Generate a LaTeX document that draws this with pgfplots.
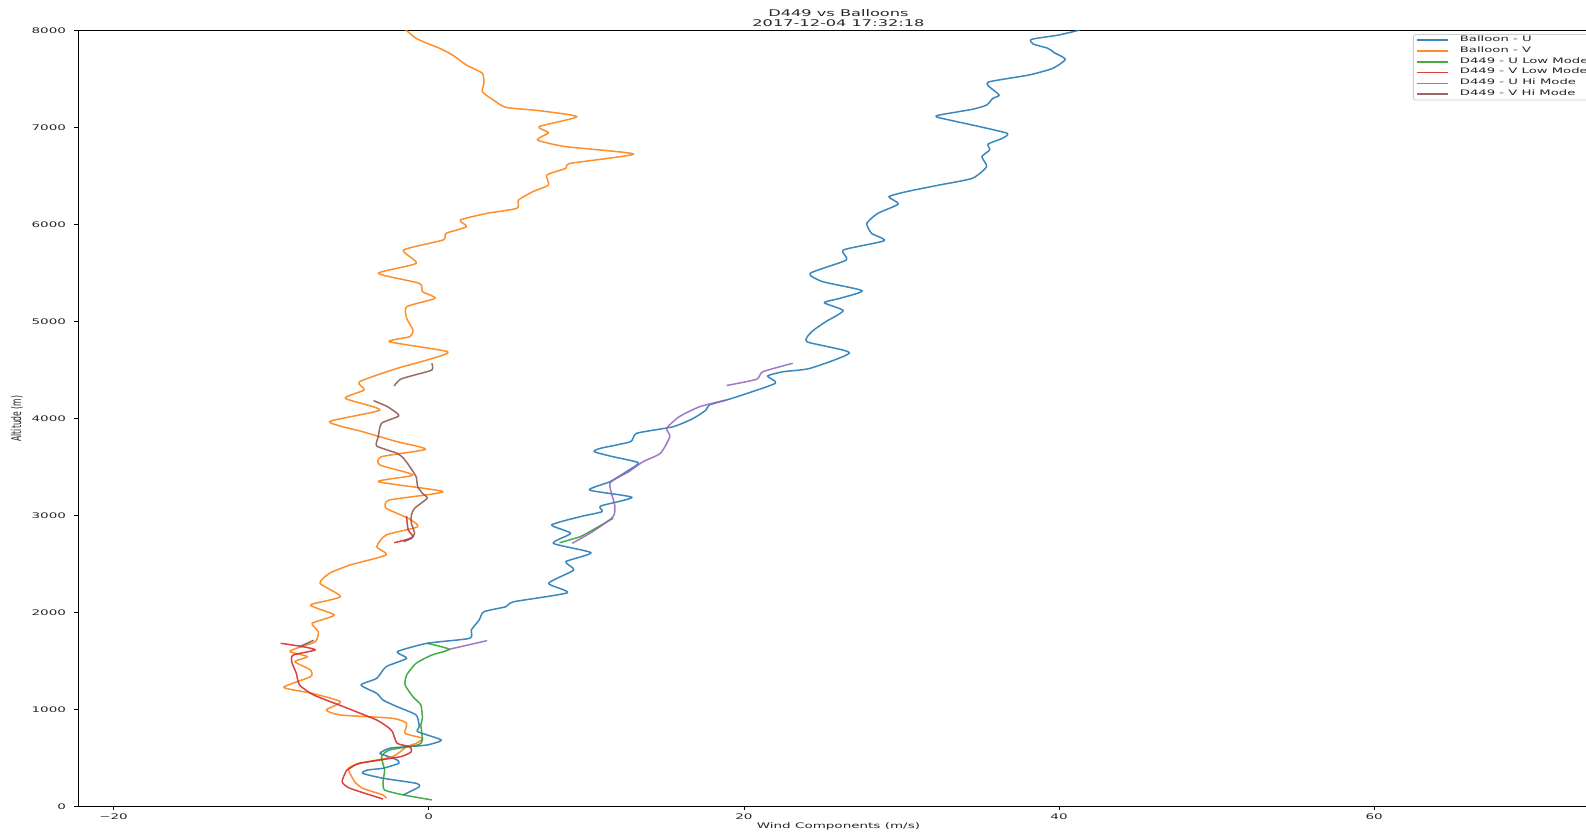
\documentclass[border=0pt]{standalone}
\usepackage{pgfplots}
\pgfplotsset{compat=1.18}
\usepackage{fontspec}
\setmainfont{DejaVu Sans}
% text is squashed vertically, as in the exported figure
\newcommand{\sq}[1]{\scalebox{1}[0.57]{#1}}
\definecolor{c0}{HTML}{1F77B4}
\definecolor{c1}{HTML}{FF7F0E}
\definecolor{c2}{HTML}{2CA02C}
\definecolor{c3}{HTML}{D62728}
\definecolor{c4}{HTML}{9467BD}
\definecolor{c5}{HTML}{8C564B}
\begin{document}
\begin{tikzpicture}
\path[use as bounding box] (-39.45pt,-12.65pt) rectangle (753.55pt,403.35pt);
\begin{axis}[
  at={(0pt,0pt)}, anchor=south west,
  scale only axis, width=759.55pt, height=388.2pt,
  xmin=-22.2, xmax=74.2, ymin=0, ymax=8000,
  unbounded coords=jump,
  axis line style={line width=0.55pt},
  tick align=outside, tick pos=left,
  xtick={-20,0,20,40,60},
  xticklabels={\sq{−20},\sq{0},\sq{20},\sq{40},\sq{60}},
  ytick={0,1000,2000,3000,4000,5000,6000,7000,8000},
  yticklabels={\sq{0},\sq{1000},\sq{2000},\sq{3000},\sq{4000},\sq{5000},\sq{6000},\sq{7000},\sq{8000}},
  xtick style={black, line width=0.4pt, /pgfplots/major tick length=1.4pt},
  ytick style={black, line width=0.4pt, /pgfplots/major tick length=2.4pt},
  tick label style={font=\fontsize{6.75}{8}\selectfont, text=black!85},
  xticklabel style={inner sep=0pt, yshift=1pt},
  yticklabel style={inner sep=0pt, xshift=-2pt},
  xlabel={\sq{Wind Components (m/s)}},
  ylabel={\scalebox{0.57}[1]{Altitude (m)}},
  label style={font=\fontsize{6.75}{8}\selectfont, text=black!85},
  xlabel style={at={(axis description cs:0.5,0)}, anchor=center, yshift=-10pt},
  ylabel style={at={(axis description cs:0,0.5)}, anchor=center, rotate=0, yshift=31pt},
  title={\sq{\begin{tabular}{@{}c@{}}D449 vs Balloons\\2017-12-04 17:32:18\end{tabular}}},
  title style={font=\fontsize{8.1}{9.2}\selectfont, text=black!85, at={(0.5,1)}, anchor=south, inner sep=0pt, yshift=-5.9pt},
  legend cell align=left,
  legend image code/.code={\draw[#1] (0pt,0pt) -- (15.5pt,0pt);},
  legend style={at={(0.8782,0.9952)}, anchor=north west, draw=black!20, rounded corners=1pt,
    fill=white, fill opacity=0.8, text opacity=1,
    font=\fontsize{6.6}{8}\selectfont, text=black!85,
    inner xsep=1.5pt, inner ysep=0.2pt, row sep=0pt,
    nodes={inner sep=0pt, minimum height=5.4pt},
    /tikz/every odd column/.append style={column sep=5.5pt}},
  every axis plot/.append style={line width=0.75pt, line join=round, smooth, tension=0.35, opacity=0.88},
]
% Balloon - U
\addplot[c0] coordinates {
(-1.6,121) (-1.2,155) (-0.6,206) (-0.8,241) (-2.9,293) (-4.2,344) (-3.9,378) (-2.9,396)
(-1.9,447) (-2.0,481) (-2.5,515) (-3.1,550) (-2.5,602) (-1.4,618) (-0.1,636) (0.8,687)
(-0.7,773) (-0.6,824) (-0.8,945) (-2.0,1030) (-2.9,1099) (-3.3,1168) (-4.3,1254) (-3.3,1323)
(-2.7,1443) (-1.4,1529) (-2.0,1597) (-0.1,1684) (2.6,1735) (2.7,1821) (3.2,1924) (3.5,2009)
(4.9,2061) (5.4,2112) (8.8,2205) (7.6,2302) (9.2,2439) (8.7,2525) (10.3,2617) (7.9,2714)
(9.0,2817) (7.8,2903) (9.6,2988) (11.0,3040) (10.9,3098) (12.9,3188) (10.2,3263) (11.5,3349)
(12.7,3469) (13.3,3545) (11.7,3606) (10.5,3658) (10.9,3693) (12.8,3761) (13.2,3848) (15.5,3915)
(16.8,4002) (17.6,4088) (17.8,4139) (18.9,4191) (19.7,4232) (22.0,4363) (21.5,4438) (22.5,4482)
(24.2,4517) (26.7,4678) (24.0,4791) (24.3,4894) (25.2,4998) (26.3,5111) (25.1,5193) (26.1,5239)
(27.5,5317) (25.0,5410) (24.2,5496) (26.5,5633) (26.3,5736) (28.9,5832) (28.1,5908) (27.8,6011)
(28.5,6114) (29.8,6210) (29.2,6285) (30.3,6337) (32.4,6406) (34.5,6475) (35.4,6595) (35.1,6698)
(35.6,6767) (35.5,6828) (36.4,6887) (36.7,6939) (34.5,7024) (32.3,7103) (32.4,7127) (34.5,7186)
(35.4,7230) (35.8,7299) (36.2,7333) (35.5,7429) (35.6,7471) (38.1,7540) (39.6,7608) (40.4,7701)
(39.7,7769) (39.3,7814) (38.35,7859) (38.25,7907) (40.0,7952) (41.3,8003)
};
\addlegendentry{\sq{Balloon - U}}
% Balloon - V
\addplot[c1] coordinates {
(-2.7,87) (-2.9,121) (-4.2,190) (-4.7,258) (-5.0,344) (-5.1,396) (-4.4,447) (-2.3,515)
(-1.4,618) (-0.8,653) (-0.4,705) (-1.5,756) (-1.4,859) (-2.3,911) (-5.6,945) (-6.5,996)
(-5.6,1082) (-7.4,1168) (-9.2,1230) (-7.5,1340) (-7.5,1409) (-8.5,1494) (-7.7,1546) (-8.8,1597)
(-8.4,1632) (-7.2,1700) (-7.0,1803) (-7.4,1890) (-6.0,1975) (-7.5,2078) (-5.6,2164) (-6.9,2302)
(-6.3,2405) (-5.0,2490) (-2.7,2594) (-3.3,2679) (-2.7,2800) (-0.7,2885) (-1.3,2972) (-2.7,3075)
(-2.5,3160) (0.9,3246) (-3.2,3349) (-1.0,3418) (-3.1,3521) (-3.0,3606) (-0.2,3683) (-2.0,3761)
(-4.2,3864) (-6.3,3967) (-3.1,4088) (-5.3,4208) (-4.1,4294) (-4.4,4379) (-2.0,4517) (-0.1,4603)
(1.2,4688) (-2.5,4791) (-1.2,4843) (-1.0,4912) (-1.4,5033) (-1.4,5152) (0.4,5239) (-0.4,5307)
(-0.6,5393) (-3.2,5496) (-0.8,5599) (-1.6,5736) (0.9,5839) (1.1,5908) (2.4,5976) (2.0,6045)
(3.7,6114) (5.6,6166) (5.7,6251) (6.6,6337) (7.6,6406) (7.5,6509) (8.7,6578) (9.0,6629)
(13.0,6725) (8.7,6801) (6.9,6870) (7.6,6945) (7.0,7007) (9.4,7110) (7.0,7172) (4.9,7206)
(4.1,7282) (3.4,7367) (3.5,7454) (3.4,7557) (2.4,7642) (1.5,7746) (0.7,7814) (-0.1,7866)
(-0.8,7917) (-1.4,7996) (-1.5,8010)
};
\addlegendentry{\sq{Balloon - V}}
% D449 - U Low Mode
\addplot[c2] coordinates {
(0.2,70) (-1.6,121) (-2.8,172) (-2.9,258) (-2.8,378) (-3.0,515) (-2.5,584) (-0.7,636)
(-0.4,687) (-0.5,842) (-0.4,911) (-0.5,1048) (-1.0,1133) (-1.5,1254) (-1.4,1357) (-0.8,1478)
(0.2,1563) (1.3,1622) (-0.1,1684)
(nan,nan)
(8.3,2720) (9.6,2782) (10.4,2851) (11.7,2972)
};
\addlegendentry{\sq{D449 - U Low Mode}}
% D449 - V Low Mode
\addplot[c3] coordinates {
(-2.9,79) (-5.0,190) (-5.5,258) (-5.2,378) (-5.0,396) (-4.4,447) (-1.8,515) (-1.1,567)
(-1.2,618) (-2.0,653) (-2.3,773) (-2.5,808) (-3.3,893) (-5.4,1030) (-7.3,1151) (-8.2,1254)
(-8.4,1374) (-8.7,1494) (-8.6,1563) (-7.2,1615) (-8.0,1649) (-9.4,1684)
(nan,nan)
(-2.2,2720) (-1.5,2748) (-1.0,2782) (-1.3,2851) (-1.4,2972) (-1.4,2995)
};
\addlegendentry{\sq{D449 - V Low Mode}}
% D449 - U Hi Mode
\addplot[c4] coordinates {
(1.3,1622) (3.7,1711)
(nan,nan)
(9.1,2714) (10.4,2834) (11.7,2988) (11.8,3109) (11.5,3332) (12.7,3452) (13.6,3555) (14.7,3641)
(15.3,3813) (15.1,3899) (15.9,4019) (17.2,4122) (18.9,4191)
(nan,nan)
(18.9,4340) (20.8,4404) (21.2,4482) (23.1,4569)
};
\addlegendentry{\sq{D449 - U Hi Mode}}
% D449 - V Hi Mode
\addplot[c5] coordinates {
(-8.2,1649) (-7.3,1715)
(nan,nan)
(-1.6,2731) (-1.1,2765) (-0.9,2817) (-1.1,2920) (-1.1,3006) (-0.9,3075) (-0.1,3178) (-0.4,3229)
(-0.7,3297) (-0.8,3400) (-1.2,3503) (-1.6,3590) (-2.0,3641) (-3.3,3717) (-3.2,3813) (-3.0,3950)
(-1.9,4026) (-2.3,4088) (-2.7,4129) (-3.5,4184)
(nan,nan)
(-2.2,4335) (-1.8,4404) (-0.9,4448) (0.2,4500) (0.2,4569)
};
\addlegendentry{\sq{D449 - V Hi Mode}}
\end{axis}
\end{tikzpicture}
\end{document}
